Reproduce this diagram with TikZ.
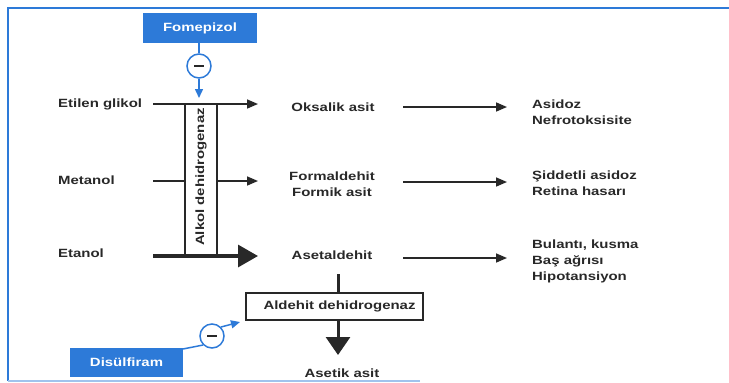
\documentclass[tikz,border=0pt]{standalone}
\usepackage{fontspec}
\setmainfont[FakeStretch=1.25]{Liberation Sans}
\usetikzlibrary{arrows.meta,calc}
\definecolor{fblue}{RGB}{45,122,216}
\definecolor{ftext}{RGB}{40,40,40}
\begin{document}
\begin{tikzpicture}[x=1bp,y=-1bp,
  lbl/.style={font=\fontsize{12}{16}\selectfont\bfseries, text=ftext, inner sep=0pt},
  bluebox/.style={draw=none, fill=fblue, text=white, font=\fontsize{12}{14}\selectfont\bfseries, inner sep=0pt},
  inhib/.style={circle, draw=fblue, line width=1.5bp, fill=white, minimum size=24bp, inner sep=0pt},
  bline/.style={draw=fblue, line width=1.5bp},
  barrow/.style={bline, -{Triangle[length=9bp,width=8bp]}},
  karrow/.style={draw=ftext, line width=1.6bp, -{Triangle[length=11bp,width=9bp]}},
  thickarrow/.style={draw=ftext, line width=3.2bp, -{Triangle[length=20bp,width=22bp]}},
  enzbox/.style={draw=ftext, line width=1.5bp, fill=white, inner sep=0pt},
  minus/.style={draw=ftext, line width=1.6bp},
]
\useasboundingbox (0,0) rectangle (729,382);
% frame
\draw[fblue, line width=2bp] (729,8) -- (8,8) -- (8,381);
\draw[fblue!45, line width=1.5bp] (8,381) -- (420,381);

% inhibitor boxes
\node[bluebox, minimum width=114bp, minimum height=30bp] (fom) at (200,28) {Fomepizol};
\node[bluebox, minimum width=113bp, minimum height=29bp] (dis) at (126.5,362.5) {Disülfiram};

% left substrate labels
\node[lbl, anchor=west] (eg) at (58,104) {Etilen glikol};
\node[lbl, anchor=west] (met) at (58,180) {Metanol};
\node[lbl, anchor=west] (eta) at (58,253) {Etanol};

% products
\node[lbl] (oks) at (333,107) {Oksalik asit};
\node[lbl, align=center] (form) at (332,184.5) {Formaldehit\\Formik asit};
\node[lbl] (aset) at (332,255) {Asetaldehit};
\node[lbl] (asetik) at (342,373) {Asetik asit};

% effects
\node[lbl, anchor=west, align=left] (e1) at (532,112.5) {Asidoz\\Nefrotoksisite};
\node[lbl, anchor=west, align=left] (e2) at (532,183) {Şiddetli asidoz\\Retina hasarı};
\node[lbl, anchor=west, align=left] (e3) at (532,261.5) {Bulantı, kusma\\Baş ağrısı\\Hipotansiyon};

% coordinates for arrows
\coordinate (a1s) at (153,104); \coordinate (a1e) at (258,104);
\coordinate (a2s) at (153,181); \coordinate (a2e) at (258,181);
\coordinate (a3s) at (153,256); \coordinate (a3e) at (258,256);
\coordinate (r1s) at (403,107); \coordinate (r1e) at (507,107);
\coordinate (r2s) at (403,182); \coordinate (r2e) at (507,182);
\coordinate (r3s) at (403,258); \coordinate (r3e) at (507,258);

\draw[karrow] (a1s) -- (a1e);
\draw[karrow] (a2s) -- (a2e);
\draw[thickarrow] (a3s) -- (a3e);
\draw[karrow] (r1s) -- (r1e);
\draw[karrow] (r2s) -- (r2e);
\draw[karrow] (r3s) -- (r3e);

% alkol dehidrogenaz vertical box
\node[enzbox, minimum width=32bp, minimum height=152bp] (adhbox) at (201,180) {};
\node[lbl, rotate=90] (adh) at (201,177) {Alkol dehidrogenaz};
\draw[draw=ftext, line width=1.6bp] (a1s) -- (230,104);
\draw[draw=ftext, line width=3.2bp] (a3s) -- (240,256);

% aldehit dehidrogenaz
\node[enzbox, minimum width=177bp, minimum height=27bp] (aldh) at (334.5,306.5) {};
\node[lbl] (aldht) at (339.5,306.5) {Aldehit dehidrogenaz};
\coordinate (d1s) at (338,274); \coordinate (d1e) at (338,293);
\coordinate (d2s) at (338,320); \coordinate (d2e) at (338,355);
\draw[ftext, line width=3bp] (d1s) -- (d1e);
\draw[draw=ftext, line width=3bp, -{Triangle[length=18bp,width=24bp]}] (d2s) -- (d2e);

% inhibition circles
\node[inhib] (c1) at (199,66) {};
\draw[minus] ($(c1)+(-5,0)$) -- ($(c1)+(5,0)$);
\coordinate (t1) at (199,98);
\draw[bline] (fom.south -| c1) -- (c1.north);
\draw[barrow] (c1.south) -- (t1);

\coordinate (t2) at (240,322);
\coordinate (d0) at (183,349);
\node[inhib] (c2) at (212,336) {};
\draw[bline] (d0) -- (c2.south west);
\draw[barrow] (c2.north east) -- (t2);
\draw[minus] ($(c2)+(-5,0)$) -- ($(c2)+(5,0)$);
\end{tikzpicture}
\end{document}
